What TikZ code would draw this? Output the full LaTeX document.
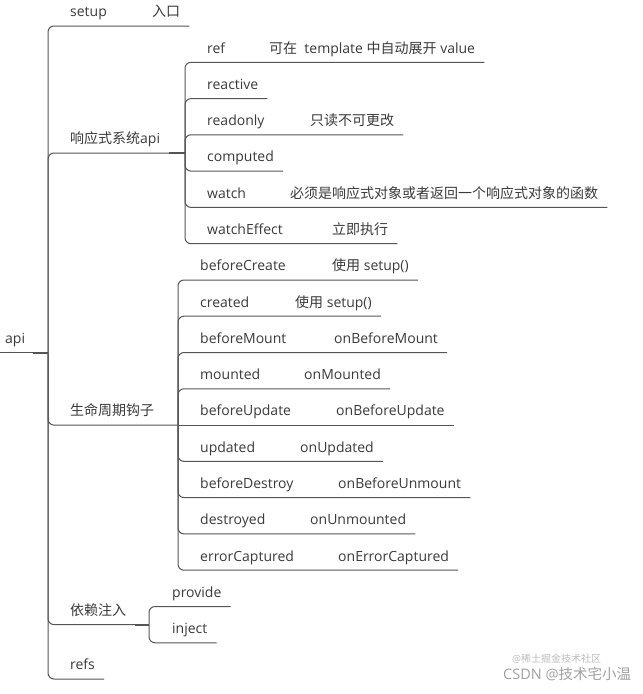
\documentclass[tikz,border=0pt]{standalone}
\usepackage{fontspec}
\usepackage{xcolor}
\usepackage{tikz}
\setmainfont{Open Sans}
\newfontfamily\cjk{Noto Sans CJK SC}
\newcommand\cn[1]{{\cjk #1}}
\definecolor{inkgray}{RGB}{58, 58, 58}
\definecolor{linegray}{RGB}{85, 85, 85}
\definecolor{markgray}{RGB}{160, 160, 160}
\usetikzlibrary{positioning, calc}

\begin{document}
\begin{tikzpicture}[
    x=1pt, y=-1pt,
    topic/.style={anchor=south west, inner sep=0pt, text depth=9pt, font=\fontsize{14}{16}\selectfont, text=inkgray},
    branch/.style={draw=linegray, line width=1pt, rounded corners=6pt},
    joint/.style={draw=linegray, line width=2pt},
    watermark/.style={anchor=base west, inner sep=0pt, text=markgray}
]
    \useasboundingbox (0,0) rectangle (643,694);

    \node[topic] (api) at (5,352.5) {api};
    \coordinate (api-fork) at (48,352.5);

    \node[topic] (setup) at (70,26) {\makebox[82pt][l]{setup}\cn{入口}};
    \node[topic] (rx) at (70,153) {\cn{响应式系统}api};
    \node[topic] (life) at (70,425.1) {\cn{生命周期钩子}};
    \node[topic] (di) at (70,624.6) {\cn{依赖注入}};
    \node[topic] (refs) at (70,679) {refs};
    \coordinate (rx-fork) at (185,153);
    \coordinate (life-fork) at (178,425.1);
    \coordinate (di-fork) at (149,624.6);

    \node[topic] (ref) at (207,62.3) {\makebox[62pt][l]{ref}\cn{可在}\ \ template \cn{中自动展开} value};
    \node[topic] (reactive) at (207,98.6) {reactive};
    \node[topic] (readonly) at (207,134.8) {\makebox[103pt][l]{readonly}\cn{只读不可更改}};
    \node[topic] (computed) at (207,171.1) {computed};
    \node[topic] (watch) at (207,207.4) {\makebox[83pt][l]{watch}\cn{必须是响应式对象或者返回一个响应式对象的函数}};
    \node[topic] (wEffect) at (207,243.7) {\makebox[125pt][l]{watchEffect}\cn{立即执行}};

    \node[topic] (bCreate) at (200,280.0) {\makebox[132pt][l]{beforeCreate}\cn{使用} setup()};
    \node[topic] (created) at (200,316.2) {\makebox[95pt][l]{created}\cn{使用} setup()};
    \node[topic] (bMount) at (200,352.5) {\makebox[134pt][l]{beforeMount}onBeforeMount};
    \node[topic] (mounted) at (200,388.8) {\makebox[104pt][l]{mounted}onMounted};
    \node[topic] (bUpdate) at (200,425.1) {\makebox[136pt][l]{beforeUpdate}onBeforeUpdate};
    \node[topic] (updated) at (200,461.4) {\makebox[100pt][l]{updated}onUpdated};
    \node[topic] (bDestroy) at (200,497.6) {\makebox[138pt][l]{beforeDestroy}onBeforeUnmount};
    \node[topic] (destroyed) at (200,533.9) {\makebox[110pt][l]{destroyed}onUnmounted};
    \node[topic] (errCap) at (200,570.2) {\makebox[138pt][l]{errorCaptured}onErrorCaptured};

    \node[topic] (provide) at (172,606.5) {provide};
    \node[topic] (inject) at (172,642.8) {inject};

    \draw[branch] ([xshift=-5pt]api.south west) -- (api-fork);
    \draw[joint] ([xshift=8pt]api.south east) -- (api-fork);

    \draw[branch] (api-fork) |- (setup.south west) -- ([xshift=9pt]setup.south east);
    \draw[branch] (api-fork) |- (rx.south west) -- (rx-fork);
    \draw[joint] ([xshift=9pt]rx.south east) -- (rx-fork);
    \draw[branch] (api-fork) |- (life.south west) -- (life-fork);
    \draw[branch] (api-fork) |- (di.south west) -- (di-fork);
    \draw[joint] ([xshift=9pt]di.south east) -- (di-fork);
    \draw[branch] (api-fork) |- (refs.south west) -- ([xshift=9pt]refs.south east);

    \draw[branch] (rx-fork) |- (ref.south west) -- ([xshift=9pt]ref.south east);
    \draw[branch] (rx-fork) |- (reactive.south west) -- ([xshift=9pt]reactive.south east);
    \draw[branch] (rx-fork) |- (readonly.south west) -- ([xshift=9pt]readonly.south east);
    \draw[branch] (rx-fork) |- (computed.south west) -- ([xshift=9pt]computed.south east);
    \draw[branch] (rx-fork) |- (watch.south west) -- ([xshift=9pt]watch.south east);
    \draw[branch] (rx-fork) |- (wEffect.south west) -- ([xshift=9pt]wEffect.south east);

    \draw[branch] (life-fork) |- (bCreate.south west) -- ([xshift=9pt]bCreate.south east);
    \draw[branch] (life-fork) |- (created.south west) -- ([xshift=9pt]created.south east);
    \draw[branch] (life-fork) |- (bMount.south west) -- ([xshift=9pt]bMount.south east);
    \draw[branch] (life-fork) |- (mounted.south west) -- ([xshift=9pt]mounted.south east);
    \draw[branch] (life-fork) -- ([xshift=9pt]bUpdate.south east);
    \draw[branch] (life-fork) |- (updated.south west) -- ([xshift=9pt]updated.south east);
    \draw[branch] (life-fork) |- (bDestroy.south west) -- ([xshift=9pt]bDestroy.south east);
    \draw[branch] (life-fork) |- (destroyed.south west) -- ([xshift=9pt]destroyed.south east);
    \draw[branch] (life-fork) |- (errCap.south west) -- ([xshift=9pt]errCap.south east);

    \draw[branch] (di-fork) |- (provide.south west) -- ([xshift=9pt]provide.south east);
    \draw[branch] (di-fork) |- (inject.south west) -- ([xshift=9pt]inject.south east);

    \node[watermark, font=\fontsize{10}{12}\selectfont, text=markgray!70] (juejin) at (512,662) {@\cn{稀土掘金技术社区}};
    \node[watermark, font=\fontsize{14.5}{17}\selectfont] (csdn) at (503,679) {CSDN @\cn{技术宅小温}};
\end{tikzpicture}
\end{document}
